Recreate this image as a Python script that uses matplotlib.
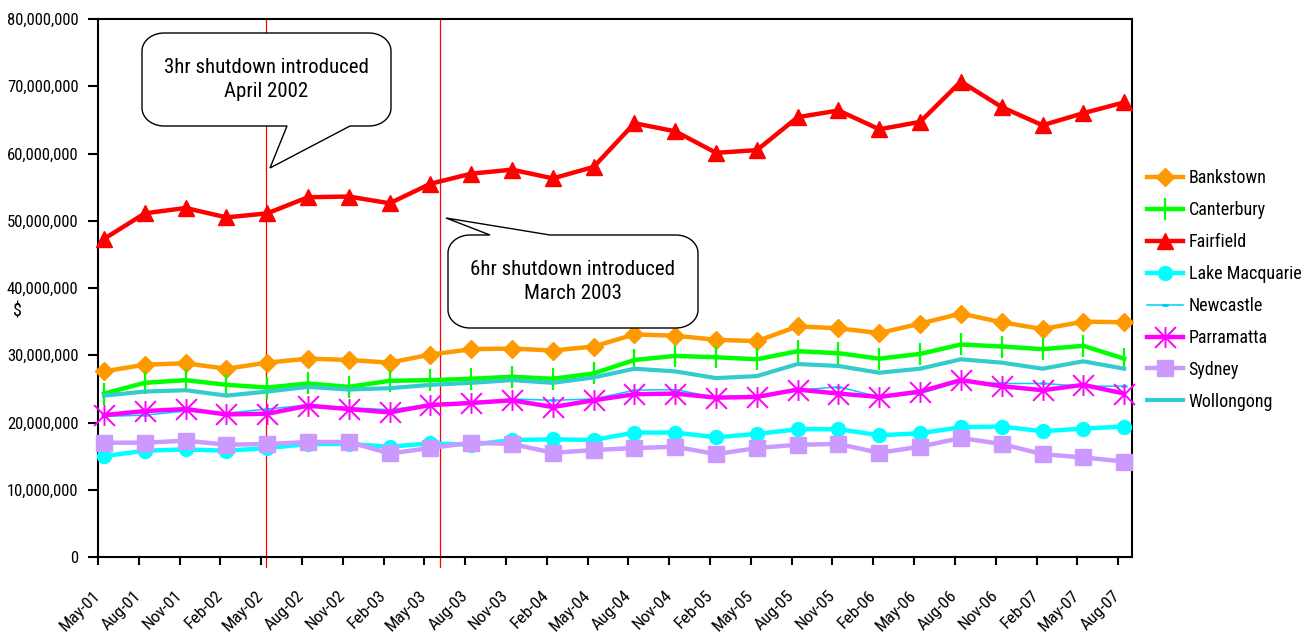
import numpy as np
import matplotlib
matplotlib.use("Agg")
import matplotlib.pyplot as plt
from matplotlib.path import Path
from matplotlib.patches import Polygon
from matplotlib.ticker import FuncFormatter
from matplotlib import font_manager as fm

_avail = {f.name for f in fm.fontManager.ttflist}
_fams = [f for f in ['Arial Narrow', 'Liberation Sans Narrow', 'Roboto Condensed',
                     'PT Sans Narrow', 'Archivo Narrow'] if f in _avail]
plt.rcParams['font.family'] = _fams[:1] + ['DejaVu Sans']

# ---------------- data ----------------
quarters = ["May-01", "Aug-01", "Nov-01", "Feb-02", "May-02", "Aug-02", "Nov-02", "Feb-03",
            "May-03", "Aug-03", "Nov-03", "Feb-04", "May-04", "Aug-04", "Nov-04", "Feb-05",
            "May-05", "Aug-05", "Nov-05", "Feb-06", "May-06", "Aug-06", "Nov-06", "Feb-07",
            "May-07", "Aug-07"]

bankstown = [27.6, 28.6, 28.8, 28.0, 28.9, 29.5, 29.3, 28.9, 30.1, 30.9, 31.0, 30.7, 31.3,
             33.1, 32.9, 32.3, 32.1, 34.3, 34.0, 33.3, 34.7, 36.2, 34.9, 33.9, 35.0, 34.9]
canterbury = [24.3, 25.9, 26.3, 25.6, 25.2, 25.8, 25.3, 26.2, 26.3, 26.5, 26.8, 26.5, 27.3,
              29.3, 29.9, 29.7, 29.4, 30.6, 30.3, 29.5, 30.2, 31.6, 31.3, 30.9, 31.4, 29.5]
fairfield = [47.3, 51.1, 51.9, 50.5, 51.1, 53.5, 53.6, 52.6, 55.5, 57.0, 57.6, 56.3, 58.0,
             64.5, 63.3, 60.1, 60.5, 65.4, 66.4, 63.6, 64.7, 70.7, 66.9, 64.2, 66.0, 67.6]
lake_macquarie = [15.0, 15.8, 16.0, 15.8, 16.2, 16.8, 16.8, 16.4, 16.9, 16.7, 17.4, 17.5, 17.4,
                  18.5, 18.5, 17.8, 18.3, 19.0, 19.0, 18.1, 18.4, 19.3, 19.4, 18.7, 19.1, 19.4]
newcastle = [20.9, 21.1, 21.7, 21.4, 22.0, 22.6, 22.2, 21.9, 22.7, 22.9, 23.5, 23.3, 23.5,
             24.8, 24.9, 23.7, 23.8, 24.8, 25.3, 23.8, 24.3, 26.1, 25.8, 25.8, 25.4, 25.4]
parramatta = [21.1, 21.7, 22.0, 21.2, 21.3, 22.5, 22.0, 21.5, 22.6, 22.9, 23.3, 22.3, 23.3,
              24.2, 24.3, 23.7, 23.8, 24.9, 24.3, 23.8, 24.6, 26.3, 25.4, 24.8, 25.6, 24.3]
sydney = [17.0, 17.0, 17.3, 16.7, 16.8, 17.1, 17.1, 15.4, 16.2, 17.0, 16.8, 15.5, 15.9,
          16.2, 16.4, 15.3, 16.2, 16.7, 16.8, 15.5, 16.4, 17.7, 16.8, 15.3, 14.8, 14.2]
wollongong = [24.0, 24.6, 24.8, 24.0, 24.6, 25.3, 24.9, 25.1, 25.6, 25.9, 26.3, 25.9, 26.7,
              28.0, 27.6, 26.6, 26.9, 28.7, 28.4, 27.4, 28.0, 29.4, 28.9, 28.0, 29.1, 28.0]

# positions (in quarter units) of the two shutdown markers
shutdown_positions = [4.11, 8.37]
callout_texts = ["3hr shutdown introduced\nApril 2002", "6hr shutdown introduced\nMarch 2003"]

SCALE = 1e6  # values above are in millions of dollars

# ---------------- figure ----------------
W, H = 1313, 638
fig = plt.figure(figsize=(W / 100, H / 100), dpi=100)
ax = fig.add_axes([98 / W, 1 - 557 / H, (1132 - 98) / W, (557 - 19) / H])

x = np.arange(len(quarters)) + 0.147

asterisk = Path([(0, -1), (0, 1), (-1, -1), (1, 1), (-1, 1), (1, -1)],
                [Path.MOVETO, Path.LINETO, Path.MOVETO, Path.LINETO, Path.MOVETO, Path.LINETO])

series = [
    ("Bankstown", bankstown, dict(color="#FF9900", lw=3.2, marker="D", ms=9.5)),
    ("Canterbury", canterbury, dict(color="#00FF00", lw=3.2, marker="|", ms=16, mew=1.6)),
    ("Fairfield", fairfield, dict(color="#FF0000", lw=3.2, marker="^", ms=12)),
    ("Lake Macquarie", lake_macquarie, dict(color="#00FFFF", lw=3.2, marker="o", ms=10)),
    ("Newcastle", newcastle, dict(color="#00CCFF", lw=1.1, marker="_", ms=5, mew=2)),
    ("Parramatta", parramatta, dict(color="#FF00FF", lw=3.2, marker=asterisk, ms=15, mew=1.4)),
    ("Sydney", sydney, dict(color="#CC99FF", lw=3.2, marker="s", ms=12)),
    ("Wollongong", wollongong, dict(color="#33CCCC", lw=3.0)),
]

for name, vals, style in series:
    ax.plot(x, np.array(vals) * SCALE, label=name, clip_on=False, zorder=3, **style)

for pos in shutdown_positions:
    ax.axvline(pos, ymin=-0.018, ymax=1, color="#FF0000", lw=0.9, clip_on=False, zorder=2)

ax.set_xlim(0, 25.34)
ax.set_ylim(0, 80e6)
ax.set_yticks(np.arange(0, 80e6 + 1, 10e6))
ax.yaxis.set_major_formatter(FuncFormatter(lambda v, p: f"{int(v):,}"))
ax.set_xticks(np.arange(len(quarters)))
ax.set_xticklabels(quarters, rotation=45, ha="right", va="center", rotation_mode="anchor")

for s in ax.spines.values():
    s.set_linewidth(1.5)
    s.set_color("black")
ax.tick_params(axis="y", direction="out", length=7, width=1.5, pad=7, labelsize=12)
ax.tick_params(axis="x", direction="out", length=6, width=1.5, pad=20, labelsize=12.5)

ax.text((13 - 98) / (1132 - 98), (557 - 311) / (557 - 19), "$", transform=ax.transAxes,
        fontsize=13, ha="left", va="center")

leg = ax.legend(loc="center left", bbox_to_anchor=(1147 / W, 1 - 290 / H),
                bbox_transform=fig.transFigure, frameon=False, fontsize=13,
                handlelength=2.0, handletextpad=0.3, labelspacing=0.77,
                borderpad=0, borderaxespad=0, markerscale=1.0)


# ---------------- callouts ----------------
def callout_vertices(x0, y0, x1, y1, rx, ry, side, base, tip):
    pts = []

    def arc(cx, cy, t0, t1):
        for t in np.linspace(t0, t1, 16):
            pts.append((cx + rx * np.cos(t), cy + ry * np.sin(t)))

    pts.append((x0 + rx, y0))
    if side == "top":
        pts += [(base[0], y0), tip, (base[1], y0)]
    pts.append((x1 - rx, y0))
    arc(x1 - rx, y0 + ry, -np.pi / 2, 0)
    pts.append((x1, y1 - ry))
    arc(x1 - rx, y1 - ry, 0, np.pi / 2)
    if side == "bottom":
        pts += [(base[1], y1), tip, (base[0], y1)]
    pts.append((x0 + rx, y1))
    arc(x0 + rx, y1 - ry, np.pi / 2, np.pi)
    pts.append((x0, y0 + ry))
    arc(x0 + rx, y0 + ry, np.pi, 1.5 * np.pi)
    return [(px / W, 1 - py / H) for px, py in pts]


callouts = [
    dict(box=(142, 33, 391, 126), side="bottom", base=(287, 350), tip=(270, 168)),
    dict(box=(448, 235, 698, 328), side="top", base=(490, 550), tip=(446, 218)),
]
for c, txt in zip(callouts, callout_texts):
    x0, y0, x1, y1 = c["box"]
    verts = callout_vertices(x0, y0, x1, y1, 22, 18, c["side"], c["base"], c["tip"])
    fig.patches.append(Polygon(verts, closed=True, transform=fig.transFigure,
                               facecolor="white", edgecolor="black", lw=1.0, zorder=5))
    fig.text((x0 + x1) / 2 / W, 1 - (y0 + y1) / 2 / H, txt, ha="center", va="center",
             fontsize=15, linespacing=1.35, zorder=6)

fig.savefig("out.png", dpi=100)
